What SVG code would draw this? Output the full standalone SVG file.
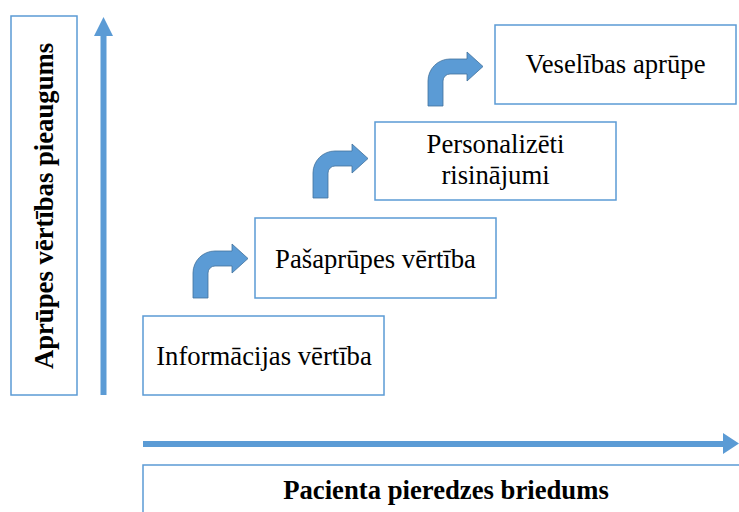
<svg xmlns="http://www.w3.org/2000/svg" width="739" height="512" viewBox="0 0 739 512">
  <style>
    .box { fill: #ffffff; stroke: #5B9BD5; stroke-width: 1.5; }
    .lbl { font-family: "Liberation Serif", "Times New Roman", serif; font-size: 26.7px; fill: #000000; text-anchor: middle; }
    .axis-lbl { font-family: "Liberation Serif", "Times New Roman", serif; font-size: 26.7px; font-weight: bold; fill: #000000; text-anchor: middle; }
    .axis { fill: #5B9BD5; }
    .bent { fill: #5B9BD5; stroke: #41719C; stroke-width: 0.8; }
  </style>
  <defs>
    <!-- bent-up arrow: stem 15 wide, turning right into a shaft with head -->
    <path id="bentArrow" d="M0,47 L0,22 A22,22 0 0 1 22,0 L39,0 L39,-7 L55,7.5 L39,22 L39,15 L22,15 A7,7 0 0 0 15,22 L15,47 Z"/>
  </defs>

  <rect width="739" height="512" fill="#ffffff"/>

  <!-- axes -->
  <g id="connectors">
    <!-- vertical axis arrow -->
    <path class="axis" d="M100.5,395 L100.5,36 L94,36 L103.5,17 L113,36 L106.5,36 L106.5,395 Z"/>
    <!-- horizontal axis arrow -->
    <path class="axis" d="M143,441 L723,441 L723,433 L739,443.5 L723,454 L723,447 L143,447 Z"/>
    <!-- step arrows -->
    <use href="#bentArrow" class="bent" transform="translate(193,251)"/>
    <use href="#bentArrow" class="bent" transform="translate(313,151)"/>
    <use href="#bentArrow" class="bent" transform="translate(428,59)"/>
  </g>

  <!-- vertical axis title -->
  <g id="axis-y">
    <rect class="box" x="11" y="16" width="66" height="379"/>
    <text class="axis-lbl" transform="translate(53,206) rotate(-90)">Aprūpes vērtības pieaugums</text>
  </g>

  <!-- horizontal axis title -->
  <g id="axis-x">
    <rect class="box" x="143" y="465" width="610" height="60"/>
    <text class="axis-lbl" x="446" y="499">Pacienta pieredzes briedums</text>
  </g>

  <g id="step1">
    <rect class="box" x="143" y="316" width="241" height="79"/>
    <text class="lbl" x="264" y="365">Informācijas vērtība</text>
  </g>

  <g id="step2">
    <rect class="box" x="255" y="218" width="241" height="80"/>
    <text class="lbl" x="375.5" y="268">Pašaprūpes vērtība</text>
  </g>

  <g id="step3">
    <rect class="box" x="375" y="122" width="241" height="78"/>
    <text class="lbl" x="495.5" y="153">Personalizēti</text>
    <text class="lbl" x="495.5" y="184">risinājumi</text>
  </g>

  <g id="step4">
    <rect class="box" x="495" y="25" width="241" height="79"/>
    <text class="lbl" x="615.5" y="73">Veselības aprūpe</text>
  </g>
</svg>
